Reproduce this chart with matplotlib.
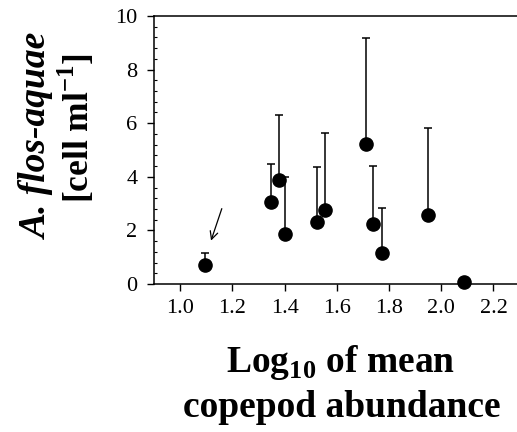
import matplotlib
matplotlib.use("Agg")
import matplotlib.pyplot as plt
import numpy as np
from matplotlib.ticker import MultipleLocator

plt.rcParams["font.family"] = ["Liberation Serif", "DejaVu Serif"]
plt.rcParams["mathtext.fontset"] = "custom"
plt.rcParams["mathtext.rm"] = "Liberation Serif"
plt.rcParams["mathtext.bf"] = "Liberation Serif:bold"

# data
log_copepod = [1.096, 1.349, 1.377, 1.402, 1.526, 1.554, 1.710, 1.739, 1.774, 1.950, 2.088]
cells = [0.71, 3.07, 3.87, 1.87, 2.30, 2.75, 5.22, 2.23, 1.15, 2.59, 0.06]
upper = [1.17, 4.47, 6.31, 3.99, 4.37, 5.65, 9.19, 4.39, 2.82, 5.83, 0.06]
xticks = [1.0, 1.2, 1.4, 1.6, 1.8, 2.0, 2.2]
yticks = [0, 2, 4, 6, 8, 10]

x = np.array(log_copepod)
y = np.array(cells)
err_up = np.array(upper) - y

fig = plt.figure(figsize=(5.17, 4.32), dpi=100)
ax = fig.add_axes([154 / 517, 1 - 284 / 432, 1 - 154 / 517, 268 / 432])

ax.errorbar(x, y, yerr=[np.zeros_like(y), err_up], fmt="none", ecolor="black",
            elinewidth=1.1, capsize=2.8, capthick=1.1, zorder=2)
ax.plot(x, y, "o", color="black", markersize=9.5, zorder=3, clip_on=False)

# arrow pointing at the first point
ax.annotate("", xy=(1.115, 1.52), xytext=(1.163, 2.91),
            arrowprops=dict(arrowstyle="->", lw=0.9, color="black", mutation_scale=14))

ax.set_xlim(0.9, 2.29)
ax.set_ylim(0, 10)
ax.set_xticks(xticks)
ax.set_xticklabels([f"{t:.1f}" for t in xticks])
ax.set_yticks(yticks)
ax.yaxis.set_minor_locator(MultipleLocator(0.4))
ax.tick_params(axis="both", which="major", direction="out", length=5, width=1,
               labelsize=16)
ax.tick_params(axis="x", which="major", pad=6)
ax.tick_params(axis="y", which="major", pad=7)
ax.tick_params(axis="y", which="minor", direction="in", length=2.5, width=0.8)
ax.spines["right"].set_visible(False)
for s in ["left", "bottom", "top"]:
    ax.spines[s].set_linewidth(1.1)

fig.text(341 / 517, 1 - 372 / 432, r"Log$_{\mathbf{10}}$ of mean", ha="center", va="baseline",
         fontsize=27, fontweight="bold")
fig.text(342 / 517, 1 - 417 / 432, "copepod abundance", ha="center", va="baseline",
         fontsize=27, fontweight="bold")

fig.text(37 / 517, 1 - 136 / 432, "A. flos-aquae", rotation=90, ha="center", va="center",
         fontsize=27, fontweight="bold", fontstyle="italic")
fig.text(77 / 517, 1 - 128 / 432, r"[cell ml$^{\mathbf{-1}}$]", rotation=90, ha="center",
         va="center", fontsize=25.5, fontweight="bold")

fig.savefig("out.png", dpi=100)
